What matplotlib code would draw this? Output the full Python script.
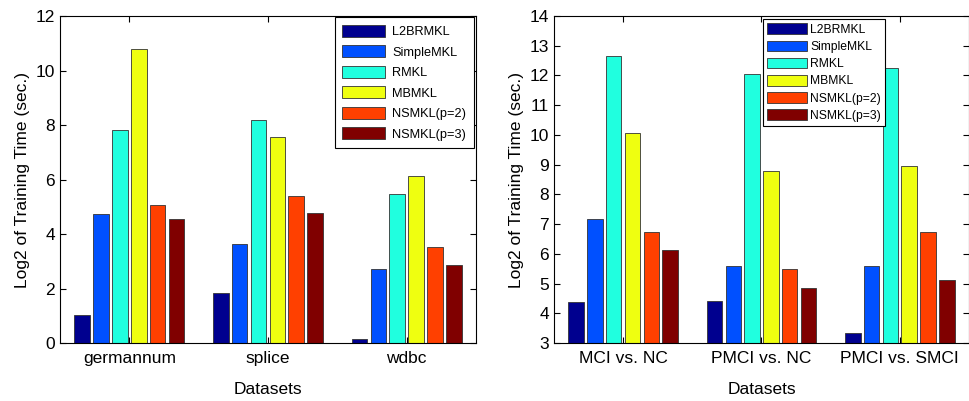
import numpy as np
import matplotlib
matplotlib.use("Agg")
import matplotlib.pyplot as plt

plt.rcParams["font.family"] = ["Liberation Sans", "DejaVu Sans"]

methods = ["L2BRMKL", "SimpleMKL", "RMKL", "MBMKL", "NSMKL(p=2)", "NSMKL(p=3)"]
colors = ["#00008F", "#0050FF", "#20FFDF", "#EFFF10", "#FF4000", "#800000"]

# 왼쪽: 공개 데이터셋
left_datasets = ["germannum", "splice", "wdbc"]
left_L2BRMKL = [1.02, 1.82, 0.13]
left_SimpleMKL = [4.72, 3.62, 2.72]
left_RMKL = [7.82, 8.18, 5.46]
left_MBMKL = [10.80, 7.57, 6.14]
left_NSMKL2 = [5.08, 5.38, 3.51]
left_NSMKL3 = [4.56, 4.78, 2.86]

# 오른쪽: ADNI 과제
right_datasets = ["MCI vs. NC", "PMCI vs. NC", "PMCI vs. SMCI"]
right_L2BRMKL = [4.38, 4.40, 3.34]
right_SimpleMKL = [7.16, 5.60, 5.59]
right_RMKL = [12.65, 12.06, 12.24]
right_MBMKL = [10.05, 8.80, 8.97]
right_NSMKL2 = [6.74, 5.50, 6.74]
right_NSMKL3 = [6.14, 4.85, 5.11]


def draw(ax, datasets, series, ylim, yticks, bottom, legend_kw):
    x = np.arange(1, len(datasets) + 1)
    pitch = 0.136
    width = 0.112
    for i, (vals, name) in enumerate(zip(series, methods)):
        off = (i - 2.5) * pitch
        ax.bar(x + off, np.array(vals) - bottom, width, bottom=bottom,
               color=colors[i], edgecolor="#333333", linewidth=0.6, label=name)
    ax.set_xlim(0.5, 3.5)
    ax.set_ylim(*ylim)
    ax.set_yticks(yticks)
    ax.set_xticks(x)
    ax.set_xticklabels(datasets)
    ax.tick_params(direction="in", top=True, right=True, labelsize=12.5, length=4,
                   width=0.8)
    ax.tick_params(axis="x", pad=6)
    for s in ax.spines.values():
        s.set_linewidth(0.8)
    ax.set_xlabel("Datasets", fontsize=12.5, labelpad=11)
    ax.set_ylabel("Log2 of Training Time (sec.)", fontsize=12.5)
    leg = ax.legend(fancybox=False, edgecolor="black", framealpha=1,
                    borderaxespad=0, **legend_kw)
    leg.get_frame().set_linewidth(0.8)


fig = plt.figure(figsize=(9.69, 4.01), dpi=100)

ax1 = fig.add_axes([0.0619, 0.1446, 0.4293, 0.8155])
draw(ax1, left_datasets,
     [left_L2BRMKL, left_SimpleMKL, left_RMKL, left_MBMKL, left_NSMKL2, left_NSMKL3],
     (0, 12), range(0, 13, 2), 0,
     dict(loc="upper right", bbox_to_anchor=(0.995, 0.997), fontsize=9.2,
          handlelength=3.3, handleheight=1.1, labelspacing=0.55,
          borderpad=0.6, handletextpad=0.6))

ax2 = fig.add_axes([0.5717, 0.1446, 0.4283, 0.8155])
draw(ax2, right_datasets,
     [right_L2BRMKL, right_SimpleMKL, right_RMKL, right_MBMKL, right_NSMKL2, right_NSMKL3],
     (3, 14), range(3, 15), 3,
     dict(loc="upper left", bbox_to_anchor=(0.503, 0.99), fontsize=8.7,
          handlelength=3.3, handleheight=0.95, labelspacing=0.4,
          borderpad=0.35, handletextpad=0.3))

fig.savefig("out.png", dpi=100)
plt.close(fig)
